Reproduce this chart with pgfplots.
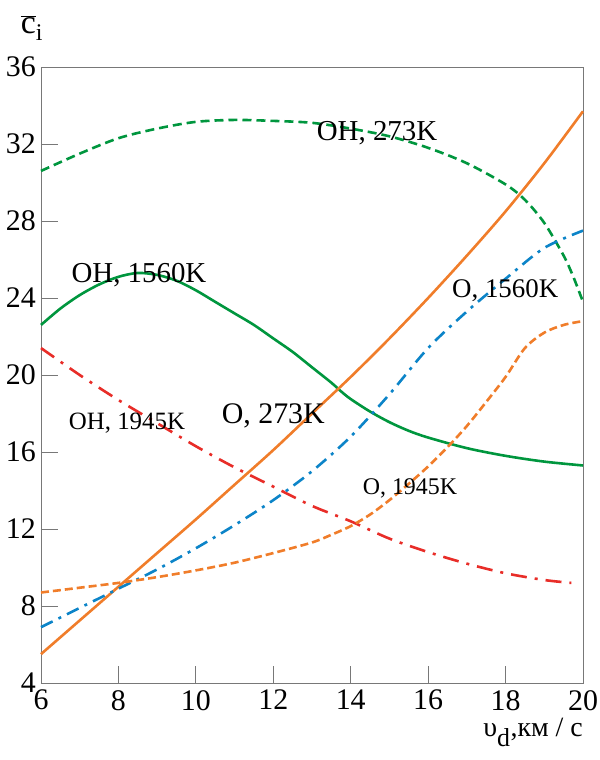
\documentclass[border=0pt]{standalone}
\usepackage{fontspec}
\setmainfont{Liberation Serif}
\usepackage{pgfplots}
\pgfplotsset{compat=1.18}
\definecolor{cgreen}{RGB}{0,150,62}
\definecolor{corange}{RGB}{240,125,42}
\definecolor{cblue}{RGB}{12,132,200}
\definecolor{cred}{RGB}{232,45,40}
\definecolor{caxis}{RGB}{120,120,120}
\begin{document}
\begin{tikzpicture}
\begin{axis}[name=ax,
  scale only axis, width=542bp, height=616bp,
  xmin=6, xmax=20, ymin=4, ymax=36,
  xtick={6,8,...,20}, ytick={4,8,...,36},
  tick align=inside, tick pos=left,
  major tick length=17bp,
  axis line style={caxis, line width=0.9bp},
  tick style={caxis, line width=0.9bp},
  /pgf/number format/assume math mode=true,
  tick label style={font=\fontsize{30}{30}\selectfont, text=black},
  yticklabel style={anchor=east, inner sep=0pt, xshift=-5bp},
  xticklabel style={anchor=north, inner sep=0pt, yshift=-7bp},
  every axis plot/.append style={line width=2.6bp, smooth},
  clip=false,
]
% OH, 273K (green dashed)
\addplot[cgreen, dash pattern=on 9bp off 5bp] coordinates {
(6,30.6) (7,31.5) (8,32.3) (9,32.8) (10,33.15) (11,33.25) (12,33.2) (13,33.1) (14,32.8) (15,32.4) (16,31.8) (17,31.0) (18,29.9) (18.5,29.1) (19,27.9) (19.5,26.2) (19.75,25.1) (20,23.8)};
% OH, 1560K (green solid)
\addplot[cgreen] coordinates {
(6,22.6) (6.5,23.45) (7,24.15) (7.5,24.7) (8,25.1) (8.5,25.3) (9,25.2) (9.5,24.9) (10,24.4) (10.5,23.8) (11,23.2) (11.5,22.6) (12,21.9) (12.5,21.2) (13,20.4) (13.5,19.6) (13.75,19.15) (14,18.75) (14.5,18.1) (15,17.55) (15.5,17.1) (16,16.75) (17,16.2) (18,15.8) (19,15.5) (20,15.3)};
% OH, 1945K (red dash-dot)
\addplot[cred, dash pattern=on 16bp off 8bp on 3bp off 8bp] coordinates {
(6,21.4) (7,20.0) (8,18.7) (9,17.5) (10,16.3) (11,15.2) (12,14.2) (13,13.2) (14,12.4) (15,11.5) (16,10.8) (17,10.2) (18,9.7) (19,9.35) (19.7,9.2)};
% O, 273K (orange solid)
\addplot[corange] coordinates {
(6,5.5) (7,7.25) (8,9.0) (9,10.75) (10,12.5) (11,14.3) (12,16.1) (13,18.0) (14,19.9) (15,21.9) (16,24.0) (17,26.2) (18,28.5) (19,31.0) (20,33.7)};
% O, 1560K (blue dash-dot)
\addplot[cblue, dash pattern=on 13bp off 6.5bp on 3bp off 6.5bp] coordinates {
(6,6.9) (7,7.9) (8,8.9) (9,9.9) (10,11.0) (11,12.2) (12,13.5) (13,15.0) (14,16.8) (15,19.0) (16,21.4) (17,23.3) (18,25.0) (19,26.6) (20,27.5)};
% O, 1945K (orange dashed)
\addplot[corange, dash pattern=on 8bp off 4bp] coordinates {
(6,8.7) (7,8.95) (8,9.2) (9,9.5) (10,9.85) (11,10.25) (12,10.75) (13,11.3) (13.5,11.7) (14,12.15) (14.5,12.75) (15,13.5) (15.5,14.35) (16,15.25) (16.5,16.25) (17,17.35) (17.5,18.6) (18,19.9) (18.5,21.4) (19,22.2) (19.5,22.6) (20,22.8)};
% labels
\node[font=\fontsize{29}{29}\selectfont] at (axis cs:14.68,32.57) {OH, 273K};
\node[font=\fontsize{29}{29}\selectfont] at (axis cs:8.53,25.19) {OH, 1560K};
\node[font=\fontsize{25}{25}\selectfont] at (axis cs:8.22,17.5) {OH, 1945K};
\node[font=\fontsize{30}{30}\selectfont] at (axis cs:12.0,17.9) {O, 273K};
\node[font=\fontsize{27}{27}\selectfont] at (axis cs:17.99,24.4) {O, 1560K};
\node[font=\fontsize{24}{24}\selectfont] at (axis cs:15.53,14.1) {O, 1945K};
\end{axis}
\node[anchor=south, font=\fontsize{34}{34}\selectfont, inner sep=0pt] at ([xshift=-9bp,yshift=26bp]ax.north west) {$\overline{\mbox{c}}_{\mbox{\fontsize{24}{24}\selectfont i}}$};
\node[anchor=north east, font=\fontsize{28}{28}\selectfont, inner sep=0pt] at ([xshift=0bp,yshift=-35bp]ax.south east) {υ\textsubscript{\fontsize{26}{26}\selectfont d},км / с};
\pgfresetboundingbox
\path ([xshift=-41bp,yshift=-77bp]ax.south west) rectangle ([xshift=17bp,yshift=67bp]ax.north east);
\end{tikzpicture}
\end{document}
